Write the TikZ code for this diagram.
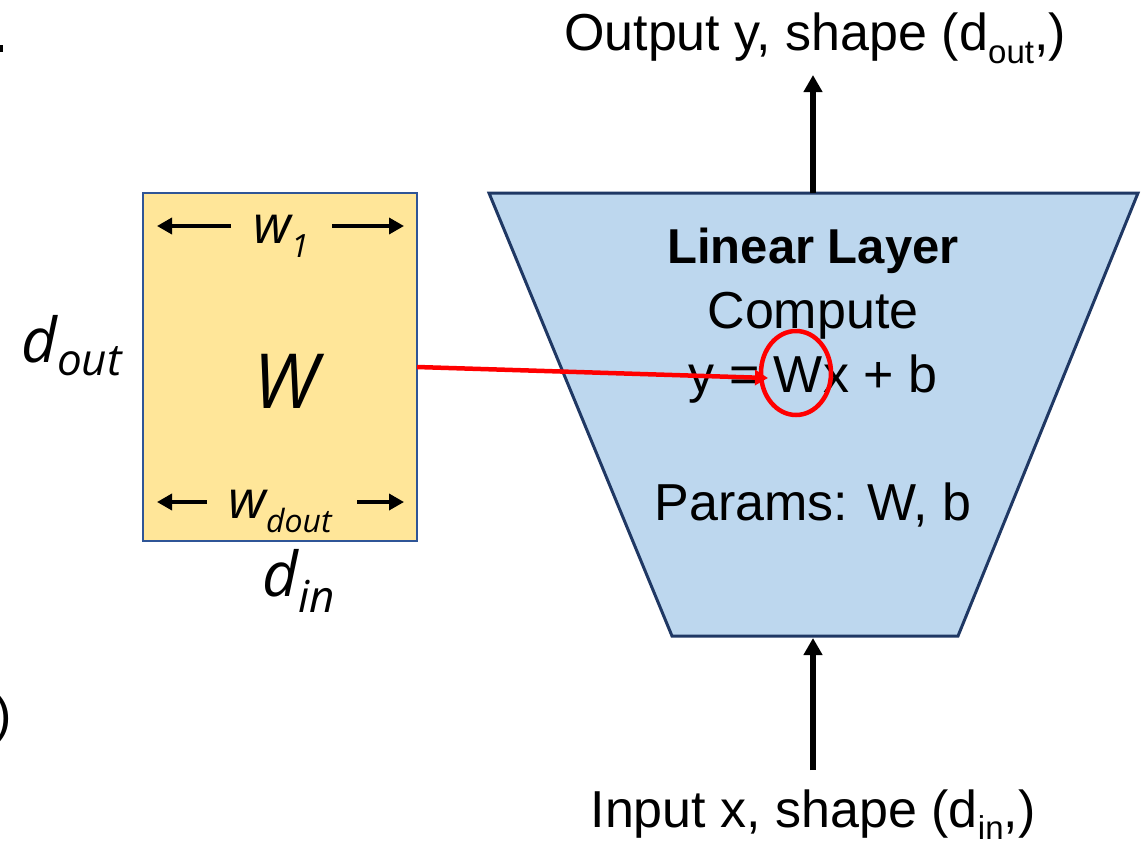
\documentclass[tikz,border=0pt]{standalone}
\usepackage{fontspec}
\setmainfont{Liberation Sans}
\newfontfamily\osit{Open Sans}
\usetikzlibrary{arrows.meta}
\definecolor{boxyellow}{HTML}{FFE699}
\definecolor{boxblue}{HTML}{2F5597}
\definecolor{traplight}{HTML}{BDD7EE}
\definecolor{trapdark}{HTML}{1F3864}
\tikzset{
  bigtxt/.style={font=\fontsize{52}{60}\selectfont, inner sep=0pt, anchor=base},
  italtxt/.style={inner sep=0pt, anchor=base west},
  flowarrow/.style={line width=5.5pt, -{Triangle[width=18pt,length=17pt]}},
  dimarrow/.style={line width=3.5pt, -{Triangle[width=16pt,length=15pt]}},
  redarrow/.style={line width=4.5pt, red, -{Triangle[width=15pt,length=13pt]}},
}
\begin{document}
\begin{tikzpicture}[x=1pt,y=-1pt]
\clip (0,0) rectangle (1144,844);
\useasboundingbox (0,0) rectangle (1144,844);
\fill[white] (0,0) rectangle (1144,844);
% cropped fragments at the left edge
\fill[black] (0,45) rectangle (3,52);
\node[bigtxt, anchor=base east] (paren) at (12,732) {)};
% weight box
\draw[boxblue, line width=2.5pt, fill=boxyellow] (143,193) rectangle (417,541);
\coordinate (boxR) at (417,367);
\node[inner sep=0pt, anchor=base, font=\osit\itshape\fontsize{76}{80}\selectfont] (Wbig) at (286,408) {W};
\node[italtxt, font=\osit\itshape\fontsize{53}{58}\selectfont] (w1) at (253,243) {w\raisebox{-14pt}{\fontsize{32}{32}\selectfont 1}};
\node[italtxt, font=\osit\itshape\fontsize{53}{58}\selectfont] (wd) at (228,518) {w\raisebox{-14pt}{\fontsize{32}{32}\selectfont dout}};
\coordinate (a1l) at (231,226); \coordinate (a1lt) at (157,226);
\coordinate (a1r) at (332,226); \coordinate (a1rt) at (404,226);
\coordinate (a2l) at (207,502); \coordinate (a2lt) at (157,502);
\coordinate (a2r) at (357,502); \coordinate (a2rt) at (404,502);
\draw[dimarrow] (a1l) -- (a1lt);
\draw[dimarrow] (a1r) -- (a1rt);
\draw[dimarrow] (a2l) -- (a2lt);
\draw[dimarrow] (a2r) -- (a2rt);
\node[italtxt, font=\osit\itshape\fontsize{62}{66}\selectfont] (dout) at (21,362) {d\raisebox{-13pt}{\fontsize{44}{44}\selectfont out}};
\node[italtxt, font=\osit\itshape\fontsize{62}{66}\selectfont] (din) at (262,596) {d\raisebox{-16pt}{\fontsize{44}{44}\selectfont in}};
% linear layer trapezoid
\coordinate (tl) at (489,193); \coordinate (tr) at (1138,193);
\coordinate (br) at (958,636); \coordinate (bl) at (672,636);
\draw[trapdark, line width=3pt, fill=traplight, line join=miter] (tl) -- (tr) -- (br) -- (bl) -- cycle;
\coordinate (trapTop) at (813,193);
\coordinate (trapBot) at (813,638);
\node[bigtxt, font=\bfseries\fontsize{49}{60}\selectfont] (title) at (813,263) {Linear Layer};
\node[bigtxt] (compute) at (813,328) {Compute};
\node[bigtxt] (eq) at (813,392) {y = Wx + b};
\node[bigtxt] (params) at (813,520) {Params: W, b};
% output / input
\node[bigtxt] (out) at (815,50) {Output y, shape (d\raisebox{-13pt}{\fontsize{33}{33}\selectfont out},)};
\coordinate (outArr) at (813,75);
\node[bigtxt] (in) at (813,827) {Input x, shape (d\raisebox{-12pt}{\fontsize{33}{33}\selectfont in},)};
\coordinate (inArr) at (813,770);
\draw[flowarrow] (trapTop) -- (outArr);
\draw[flowarrow] (inArr) -- (trapBot);
% red highlight
\coordinate (redTip) at (768,378);
\draw[redarrow] (boxR) -- (redTip);
\draw[red, line width=4.5pt] (796,373) ellipse [x radius=35, y radius=42];
\end{tikzpicture}
\end{document}
